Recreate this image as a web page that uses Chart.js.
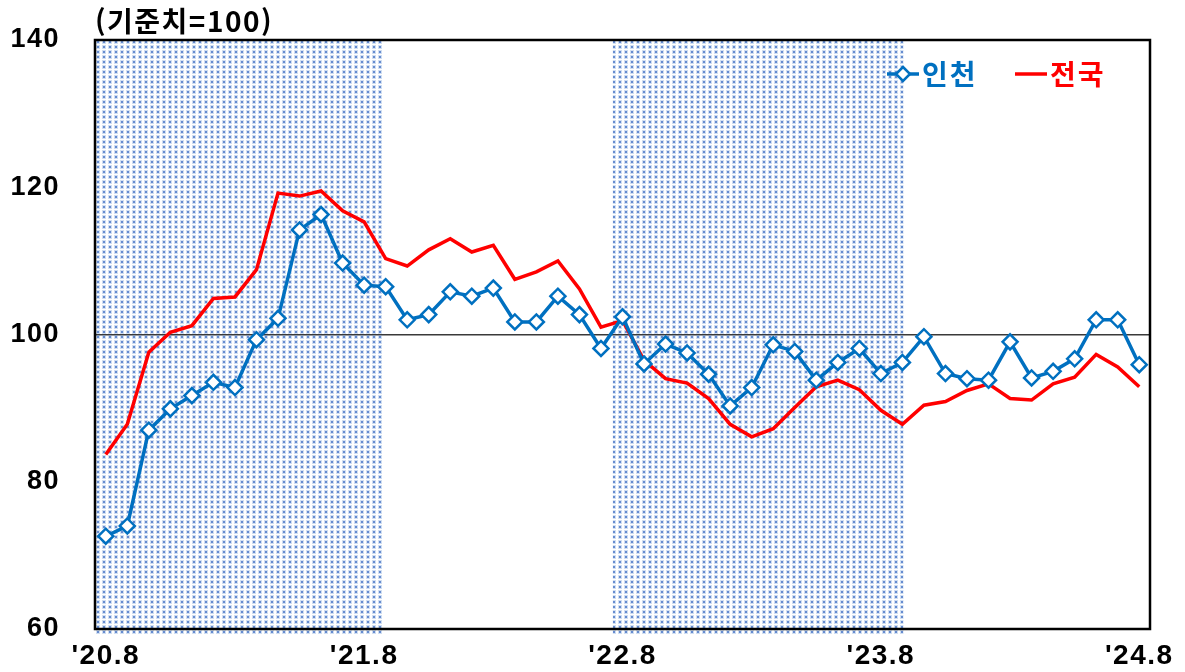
<!DOCTYPE html>
<html lang="ko">
<head>
<meta charset="utf-8">
<script src="https://cdn.jsdelivr.net/npm/chart.js@4.4.1/dist/chart.umd.min.js"></script>
<style>
  html, body { margin: 0; padding: 0; background: #fff; }
  #wrap { width: 1185px; height: 672px; }
</style>
</head>
<body>
<div id="wrap"><canvas id="bsiChart" width="1185" height="672"></canvas></div>
<script>
const months = [
  "'20.8", "'20.9", "'20.10", "'20.11", "'20.12", "'21.1", "'21.2", "'21.3", "'21.4", "'21.5", "'21.6", "'21.7",
  "'21.8", "'21.9", "'21.10", "'21.11", "'21.12", "'22.1", "'22.2", "'22.3", "'22.4", "'22.5", "'22.6", "'22.7",
  "'22.8", "'22.9", "'22.10", "'22.11", "'22.12", "'23.1", "'23.2", "'23.3", "'23.4", "'23.5", "'23.6", "'23.7",
  "'23.8", "'23.9", "'23.10", "'23.11", "'23.12", "'24.1", "'24.2", "'24.3", "'24.4", "'24.5", "'24.6", "'24.7",
  "'24.8"
];
const shownLabels = ["'20.8", "'21.8", "'22.8", "'23.8", "'24.8"];

const incheon = [
  72.6, 74.0, 87.0, 89.9, 91.7, 93.5, 92.8, 99.3, 102.2, 114.2, 116.3, 109.7,
  106.7, 106.5, 102.0, 102.7, 105.8, 105.2, 106.3, 101.7, 101.7, 105.2, 102.7, 98.1,
  102.4, 96.0, 98.7, 97.5, 94.6, 90.3, 92.8, 98.6, 97.7, 93.8, 96.2, 98.1,
  94.7, 96.2, 99.7, 94.7, 94.0, 93.8, 99.0, 94.1, 95.0, 96.7, 102.0, 102.0,
  95.9
];
const national = [
  83.7, 87.8, 97.6, 100.3, 101.2, 104.9, 105.1, 108.8, 119.2, 118.8, 119.5, 116.8,
  115.3, 110.3, 109.3, 111.5, 113.0, 111.2, 112.1, 107.5, 108.5, 110.0, 106.2, 101.0,
  101.9, 96.5, 94.0, 93.4, 91.3, 87.8, 86.1, 87.2, 90.1, 92.9, 93.8, 92.5,
  89.7, 87.8, 90.4, 90.9, 92.4, 93.3, 91.3, 91.1, 93.3, 94.2, 97.3, 95.6,
  92.9
];
// shaded periods, in category index units
const shadeRanges = [[-0.5, 12.9], [23.55, 37.05]];

const BLUE = '#0070c0';
const RED = '#ff0000';

// dotted fill like the excel pattern
function makeDots() {
  const c = document.createElement('canvas');
  c.width = 6; c.height = 5;
  const g = c.getContext('2d');
  g.fillStyle = 'rgba(100,145,210,0.3)';
  g.fillRect(0, 0, 4, 4);
  g.fillStyle = 'rgba(75,120,200,0.8)';
  g.fillRect(1, 1, 2, 2);
  return c;
}

const shadePlugin = {
  id: 'shade',
  beforeDatasetsDraw(chart) {
    const { ctx, chartArea, scales } = chart;
    const pat = ctx.createPattern(makeDots(), 'repeat');
    ctx.save();
    ctx.fillStyle = pat;
    shadeRanges.forEach(r => {
      const x1 = scales.x.getPixelForValue(r[0]);
      const x2 = scales.x.getPixelForValue(r[1]);
      ctx.fillRect(x1, chartArea.top, x2 - x1, chartArea.bottom - chartArea.top + 5);
    });
    ctx.restore();
  }
};

// wider glyphs for the axis numbers
const spacingPlugin = {
  id: 'spacing',
  beforeDraw(chart) { chart.ctx.letterSpacing = '1.5px'; }
};

const framePlugin = {
  id: 'frame',
  afterDraw(chart) {
    const { ctx, chartArea } = chart;
    ctx.save();
    ctx.strokeStyle = '#000';
    ctx.lineWidth = 2.5;
    ctx.strokeRect(chartArea.left, chartArea.top, chartArea.right - chartArea.left, chartArea.bottom - chartArea.top);

    // unit note
    ctx.fillStyle = '#000';
    ctx.letterSpacing = '1.5px';
    ctx.font = 'bold 28px "Noto Sans CJK KR", "Liberation Sans", sans-serif';
    ctx.textBaseline = 'middle';
    ctx.textAlign = 'left';
    ctx.fillText('(기준치=100)', 95, 21);

    // legend
    const ly = 74;
    ctx.lineWidth = 3.5;
    ctx.strokeStyle = BLUE;
    ctx.beginPath(); ctx.moveTo(887, ly); ctx.lineTo(919, ly); ctx.stroke();
    ctx.fillStyle = '#fff';
    ctx.lineWidth = 2.5;
    ctx.beginPath();
    ctx.moveTo(903, ly - 7); ctx.lineTo(910, ly); ctx.lineTo(903, ly + 7); ctx.lineTo(896, ly); ctx.closePath();
    ctx.fill(); ctx.stroke();
    ctx.letterSpacing = '2px';
    ctx.font = 'bold 28px "Noto Sans CJK KR", sans-serif';
    ctx.fillStyle = BLUE;
    ctx.fillText('인천', 922, ly);
    ctx.strokeStyle = RED;
    ctx.lineWidth = 3.5;
    ctx.beginPath(); ctx.moveTo(1015, ly); ctx.lineTo(1047, ly); ctx.stroke();
    ctx.fillStyle = RED;
    ctx.fillText('전국', 1050, ly);
    ctx.restore();
  }
};

const ctx = document.getElementById('bsiChart').getContext('2d');
new Chart(ctx, {
  type: 'line',
  data: {
    labels: months,
    datasets: [
      {
        label: '인천',
        data: incheon,
        borderColor: BLUE,
        borderWidth: 3.5,
        pointStyle: 'rectRot',
        pointRadius: 7.5,
        pointBorderWidth: 2.5,
        pointBackgroundColor: '#fff',
        pointBorderColor: BLUE,
        tension: 0,
        order: 1
      },
      {
        label: '전국',
        data: national,
        borderColor: RED,
        borderWidth: 3.5,
        pointRadius: 0,
        tension: 0,
        order: 2
      }
    ]
  },
  options: {
    responsive: false,
    animation: false,
    layout: { padding: { top: 40, right: 35, left: 0, bottom: 0 } },
    plugins: {
      legend: { display: false },
      tooltip: { enabled: false }
    },
    scales: {
      x: {
        offset: true,
        afterFit(scale) { scale.height = 43; },
        grid: { display: false, drawTicks: false },
        border: { display: false },
        ticks: {
          autoSkip: false,
          maxRotation: 0,
          padding: 10,
          color: '#000',
          font: { family: '"Liberation Sans", Arial, sans-serif', size: 28, weight: 'bold' },
          callback: function (v, i) {
            const lab = months[i];
            return shownLabels.includes(lab) ? lab : null;
          }
        }
      },
      y: {
        min: 60,
        max: 140,
        afterFit(scale) {
          scale.width = 95;
          scale.paddingTop = 0;
          scale.paddingBottom = 0;
        },
        border: { display: false },
        grid: {
          drawTicks: false,
          lineWidth: 1.5,
          color: c => (c.tick && c.tick.value === 100 ? '#3a3a3a' : 'rgba(0,0,0,0)')
        },
        ticks: {
          stepSize: 20,
          padding: 35,
          color: '#000',
          font: { family: '"Liberation Sans", Arial, sans-serif', size: 27, weight: 'bold' }
        }
      }
    }
  },
  plugins: [spacingPlugin, shadePlugin, framePlugin]
});
</script>
</body>
</html>
